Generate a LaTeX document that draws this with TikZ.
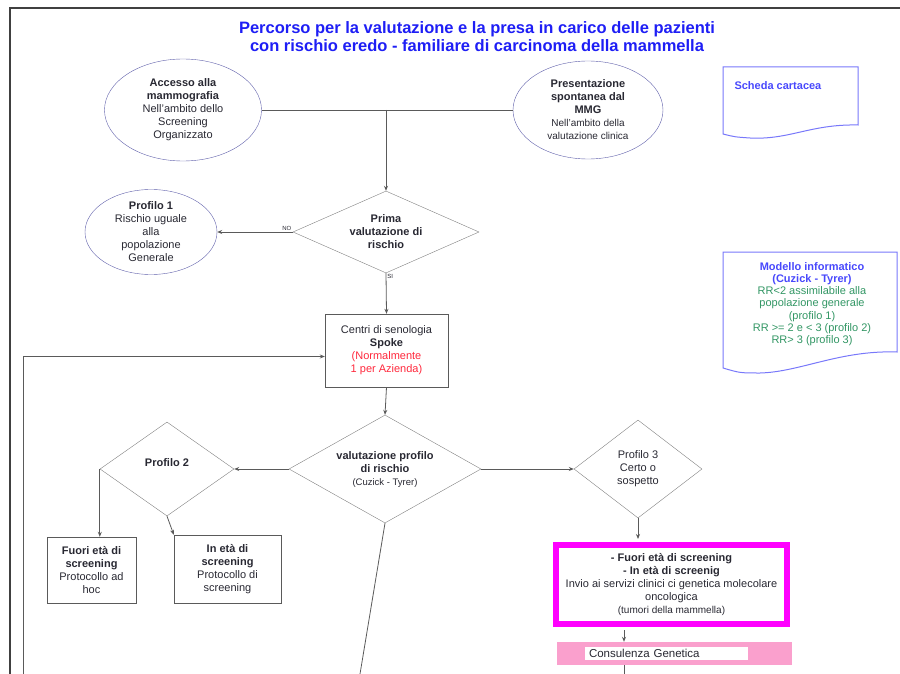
\documentclass[tikz,border=0pt]{standalone}
\usepackage{fontspec}
\setmainfont{Liberation Sans}
\usetikzlibrary{shapes.geometric, arrows.meta}
\definecolor{titleblue}{RGB}{30,30,245}
\definecolor{ovalblue}{RGB}{95,95,170}
\definecolor{docblue}{RGB}{120,120,250}
\definecolor{modgreen}{RGB}{50,150,100}
\definecolor{linegray}{RGB}{90,90,90}
\definecolor{txtgray}{RGB}{40,40,50}
\definecolor{redtext}{RGB}{255,40,60}
\definecolor{consPink}{RGB}{250,160,205}
\definecolor{frameMagenta}{RGB}{255,0,255}

\begin{document}
\begin{tikzpicture}[x=1pt, y=-1pt,
  every node/.style={font=\fontsize{11}{13}\selectfont, text=txtgray, align=center},
  oval/.style={draw=ovalblue, ellipse, inner sep=0pt},
  dia/.style={draw=gray, diamond, inner sep=0pt},
  box/.style={draw=linegray, rectangle, inner sep=0pt},
  arr/.style={draw=linegray, line width=0.8pt, -{Stealth[length=5pt,width=4pt]}},
  ln/.style={draw=linegray, line width=0.8pt},
  tiny/.style={font=\fontsize{6}{7}\selectfont, inner sep=1pt}]
\useasboundingbox (0,0) rectangle (900,674);
\draw[line width=2.5pt, black!75] (10,674) -- (10,8) -- (900,8);

% titolo
\node[font=\fontsize{16.5}{18}\selectfont\bfseries, text=titleblue] (title) at (477,37)
  {Percorso per la valutazione e la presa in carico delle pazienti\\con rischio eredo - familiare di carcinoma della mammella};

% accesso
\node[oval, minimum width=157, minimum height=102,
  label={center:{\textbf{Accesso alla}\\\textbf{mammografia}\\Nell'ambito dello\\Screening\\Organizzato}}] (acc) at (183,110) {};
\node[oval, minimum width=150, minimum height=98,
  label={center:{\textbf{Presentazione}\\\textbf{spontanea dal}\\\textbf{MMG}\\{\fontsize{10}{12}\selectfont Nell'ambito della}\\{\fontsize{10}{12}\selectfont valutazione clinica}}}] (pres) at (588,110) {};
\coordinate (join) at (386,110);

% prima valutazione
\node[dia, minimum width=186, minimum height=82,
  label={center:{\textbf{Prima}\\\textbf{valutazione di}\\\textbf{rischio}}}] (prima) at (386,232) {};
\node[oval, minimum width=132, minimum height=85,
  label={center:{\textbf{Profilo 1}\\Rischio uguale\\alla\\popolazione\\Generale}}] (prof1) at (151,232) {};

% centri
\node[box, minimum width=123, minimum height=73] (spoke) at (386.5,350.5)
  {Centri di senologia\\\textbf{Spoke}\\\textcolor{redtext}{(Normalmente}\\\textcolor{redtext}{1 per Azienda)}};
\coordinate (loopin) at (23,674);

% valutazione profilo
\node[dia, minimum width=192, minimum height=108,
  label={center:{\textbf{valutazione profilo}\\\textbf{di rischio}\\{\fontsize{9.5}{11}\selectfont (Cuzick - Tyrer)}}}] (valut) at (385,469) {};
\coordinate (valout) at (360,674);
\node[dia, minimum width=134, minimum height=94,
  label={[yshift=6pt]center:{\textbf{Profilo 2}}}] (prof2) at (167,469) {};
\node[dia, minimum width=128, minimum height=98,
  label={center:{Profilo 3\\Certo o\\sospetto}}] (prof3) at (638,469) {};

\node[box, minimum width=89, minimum height=66] (fuori) at (91.5,570)
  {\textbf{Fuori età di}\\\textbf{screening}\\Protocollo ad\\hoc};
\node[box, minimum width=107, minimum height=68] (ineta) at (227.5,569)
  {\textbf{In età di}\\\textbf{screening}\\Protocollo di\\screening};

% profilo 3
\node[draw=frameMagenta, line width=6pt, rectangle, inner sep=0pt, minimum width=231, minimum height=79] (invio) at (671.5,584.5)
  {\textbf{- Fuori età di screening}\\\textbf{- In età di screenig}\\Invio ai servizi clinici ci genetica molecolare\\oncologica\\{\fontsize{10}{13}\selectfont(tumori della mammella)}};
\node[fill=consPink, inner sep=0pt, minimum width=235, minimum height=23] (cons) at (674.5,653.5) {};
\node[fill=white, inner sep=0pt, minimum width=163, minimum height=13, text width=155, align=left,
  font=\fontsize{11.5}{13}\selectfont] (consl) at (666.5,653.5) {Consulenza Genetica};
\coordinate (consout) at (624,674);

% documenti
\draw[docblue, line width=1pt] (723,67) -- (858,67) -- (858,125)
  .. controls (810,124) and (790,140) .. (750,138) .. controls (735,137) .. (723,134) -- cycle;
\node[font=\fontsize{11}{13}\selectfont\bfseries, text=docblue!60!blue, anchor=west] (scheda) at (731,86) {Scheda cartacea};
\draw[docblue, line width=1pt] (723,252) -- (897,252) -- (897,352)
  .. controls (840,350) and (800,372) .. (760,373) .. controls (740,373) .. (723,368) -- cycle;
\node[font=\fontsize{11}{12.2}\selectfont, text=modgreen] (modello) at (812,304)
  {\textcolor{docblue!60!blue}{\textbf{Modello informatico}}\\\textcolor{docblue!60!blue}{\textbf{(Cuzick - Tyrer)}}\\RR<2 assimilabile alla\\popolazione generale\\(profilo 1)\\RR >= 2 e < 3 (profilo 2)\\RR> 3 (profilo 3)};

% connettori
\draw[ln] (acc.east) -- (pres.west);
\draw[arr] (join) -- (prima.north);
\draw[arr] (prima.west) -- node[tiny, pos=0, anchor=south east] {NO} (prof1.east);
\draw[arr] (prima.south) -- node[tiny, pos=0, anchor=north west] {SI} (spoke.north);
\draw[arr] (loopin) |- ([yshift=-6pt]spoke.west);
\draw[arr] (spoke.south) -- (valut.north);
\draw[arr] (valut.west) -- (prof2.east);
\draw[arr] (valut.east) -- (prof3.west);
\draw[ln] (valut.south) -- (valout);
\draw[arr] (prof2.west) -- (prof2.west |- fuori.north);
\draw[arr] (prof2.south) -- (ineta.north west);
\draw[arr, shorten >=3pt] (prof3.south) -- (prof3.south |- invio.north);
\draw[arr, shorten <=3pt] ([xshift=-47.5pt]invio.south) -- ([xshift=-47.5pt]invio.south |- cons.north);
\draw[ln] (cons.south -| consout) -- (consout);
\end{tikzpicture}
\end{document}
